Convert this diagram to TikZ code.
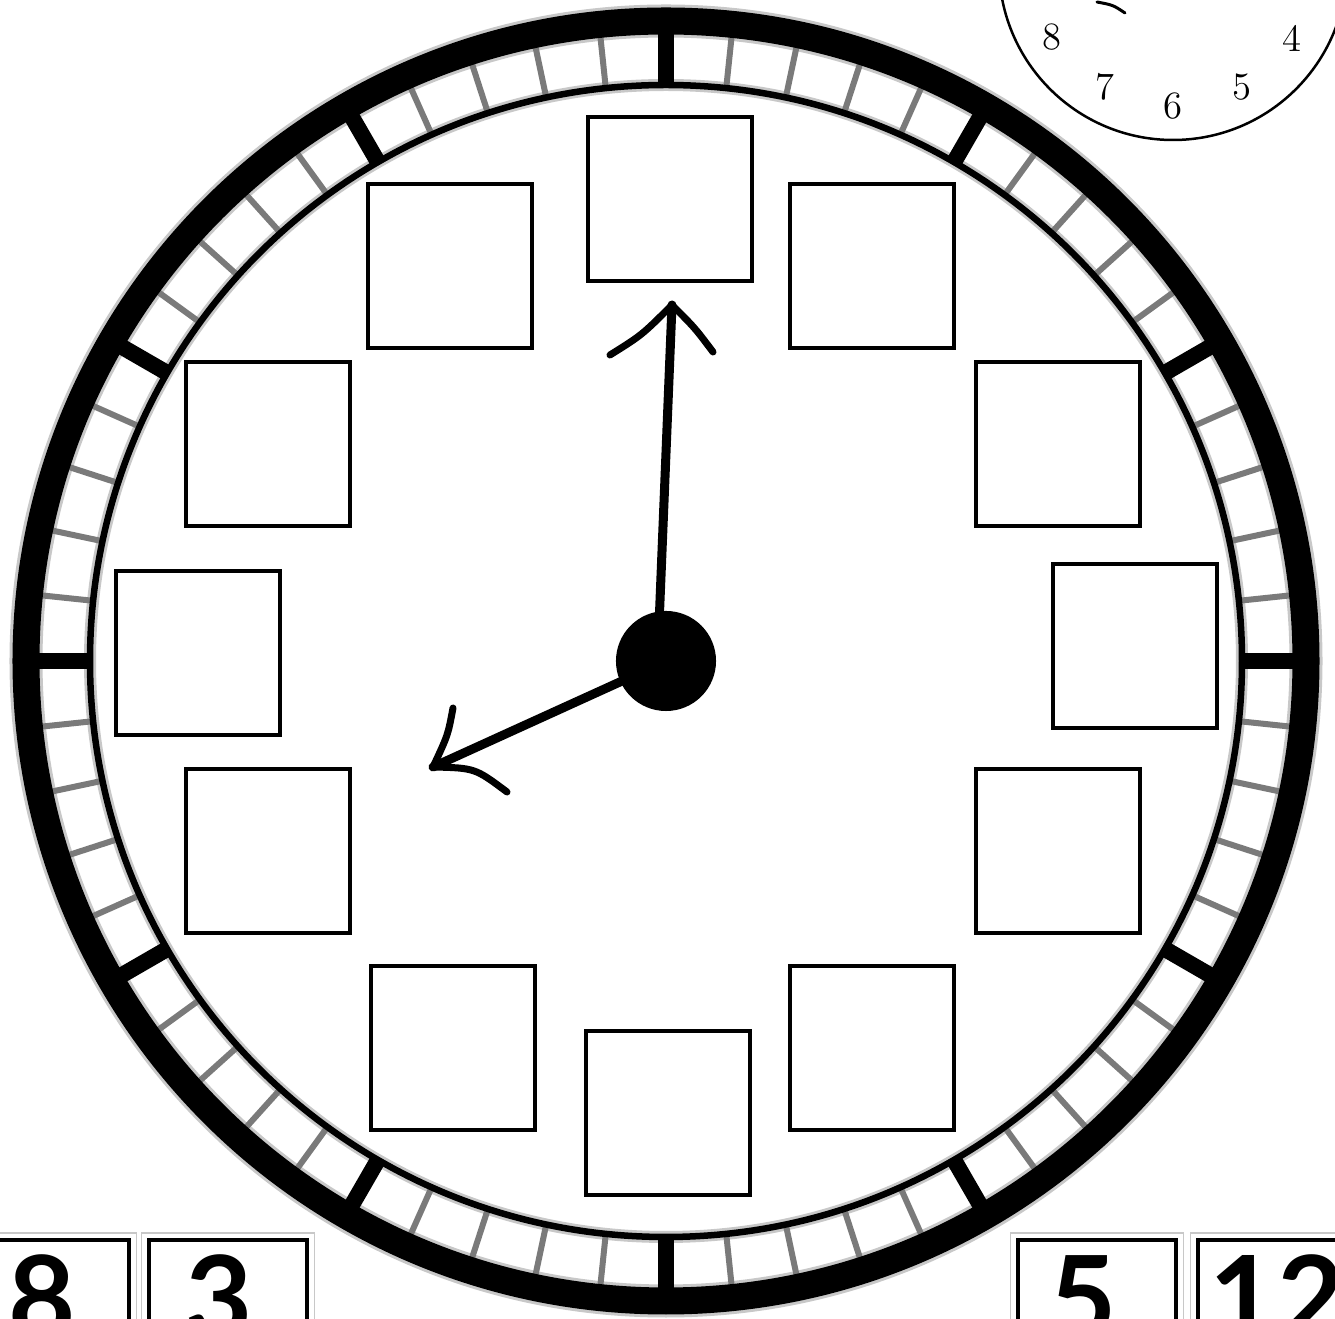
\documentclass[tikz,border=0pt]{standalone}
\usepackage{fontspec}
\usepackage{xcolor}
\usepackage{tikz}
\usetikzlibrary{calc,arrows.meta,positioning}
\newfontfamily\handfont{Lato}
\definecolor{tickGray}{HTML}{7A7A7A}
\definecolor{edgeGray}{HTML}{C8C8C8}

\begin{document}
\begin{tikzpicture}[x=0.01cm,y=-0.01cm,
    slot/.style={draw, line width=0.035cm, minimum size=1.64cm, inner sep=0pt},
    card/.style={draw, line width=0.045cm, minimum width=1.58cm, minimum height=2.6cm, inner sep=0pt, anchor=north},
    hand/.style={line width=0.09cm, line cap=round},
    barb/.style={line width=0.07cm, line cap=round},
    mini/.style={font=\fontsize{11}{13}\selectfont, inner sep=0pt},
    bignum/.style={font=\handfont\bfseries\fontsize{33}{38}\selectfont, inner sep=0pt, anchor=base}]
        \useasboundingbox (0,0) rectangle (1335,1319);
        \coordinate (c) at (666,661);

        % soft edges of the bezel
        \draw[edgeGray, line width=0.33cm] (c) circle (640);
        \draw[edgeGray, line width=0.12cm] (c) circle (576);

        % minute ticks, hour ticks heavier
        \foreach \a in {0,6,...,354} {
            \draw[tickGray, line width=0.06cm] (c) ++(\a:578) -- ++(\a:52);
        }
        \foreach \a in {0,30,...,330} {
            \draw[line width=0.16cm] (c) ++(\a:578) -- ++(\a:52);
        }

        % bezel rings
        \draw[line width=0.27cm] (c) circle (640);
        \draw[line width=0.065cm] (c) circle (576);

        % number slots
        \foreach \n/\x/\y in {12/670/199, 1/872/266, 2/1058/444, 3/1135/646,
                              4/1058/851, 5/872/1048, 6/668/1113, 7/453/1048,
                              8/268/851, 9/198/653, 10/268/444, 11/450/266} {
            \node[slot] (b\n) at (\x,\y) {};
        }

        % hands
        \node[circle, fill, minimum size=1.0cm, inner sep=0pt] (hub) at (666,661) {};
        \coordinate (minfoot) at (658,650);
        \coordinate (mintip) at (672,305);
        \coordinate (hourtip) at (433,767);
        \draw[hand] (minfoot) -- (mintip);
        \draw[barb] (mintip) .. controls (642,335) .. (610,355);
        \draw[barb] (mintip) .. controls (695,328) .. (713,352);
        \draw[hand] (hub.center) -- (hourtip);
        \draw[barb] (hourtip) .. controls (448,735) .. (453,708);
        \draw[barb] (hourtip) .. controls (475,768) .. (507,792);

        % corner clock, cut by the page edge
        \draw[line width=0.025cm] (1173,-34) circle (174);
        \foreach \n/\x/\y in {8/1052/37, 7/1105/87, 6/1173/106, 5/1242/87, 4/1292/38} {
            \node[mini] (m\n) at (\x,\y) {\n};
        }
        \draw[line width=0.03cm, line cap=round] (1097,2) .. controls (1113,5) .. (1125,13);

        % cards along the bottom edge
        \foreach \n/\x in {8/50, 3/228, 5/1097, 12/1277} {
            \node[card] (k\n) at (\x,1238) {};
            \draw[edgeGray, line width=0.015cm] ($(k\n.north west)+(-5,-5)$) rectangle ($(k\n.south east)+(5,5)$);
        }
        \node[bignum] (t8) at (42,1340) {8};
        \node[bignum] (t3) at (219,1340) {3};
        \node[bignum] (t5) at (1083,1340) {5};
        \node[bignum] (t12) at (1277,1340) {12};
    \end{tikzpicture}
\end{document}
